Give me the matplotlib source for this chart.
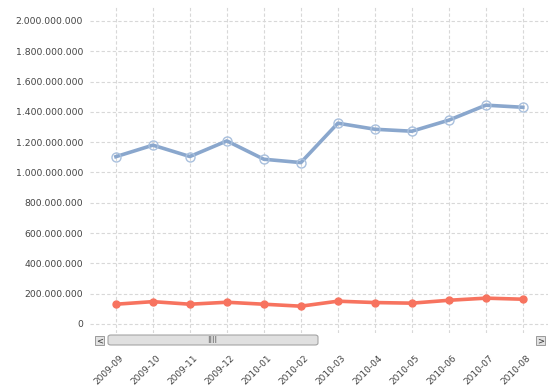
import matplotlib
matplotlib.use("Agg")
import matplotlib.pyplot as plt
from matplotlib.patches import FancyBboxPatch, Rectangle
from matplotlib.ticker import FuncFormatter
from matplotlib.transforms import ScaledTranslation

months = ['2009-09', '2009-10', '2009-11', '2009-12', '2010-01', '2010-02',
          '2010-03', '2010-04', '2010-05', '2010-06', '2010-07', '2010-08']
series_blue = [1104e6, 1180e6, 1105e6, 1208e6, 1087e6, 1065e6,
               1325e6, 1285e6, 1272e6, 1345e6, 1444e6, 1430e6]
series_red = [130e6, 147e6, 130e6, 143e6, 130e6, 117e6,
              150e6, 141e6, 137e6, 156e6, 170e6, 163e6]
yticks = [i * 200e6 for i in range(11)]

W, H = 554, 387
fig = plt.figure(figsize=(W / 100, H / 100), dpi=100)
ax = fig.add_axes([90 / W, 1 - 333 / H, (548 - 90) / W, (333 - 7) / H])

x = list(range(len(months)))
ax.plot(x, series_blue, color='#8aa7cd', lw=2.6, zorder=3,
        marker='o', ms=6.5, mfc='none', mec='#a9c0dd', mew=1.0)
ax.plot(x, series_red, color='#f7735f', lw=2.6, zorder=3,
        marker='o', ms=5, mfc='#f7735f', mec='#f7735f')

ax.set_xlim(-0.7, 11.68)
ax.set_ylim(-60e6, 2092e6)
ax.set_yticks(yticks)
ax.yaxis.set_major_formatter(FuncFormatter(lambda v, p: f"{int(round(v)):,}".replace(',', '.')))
ax.set_xticks(x)
ax.set_xticklabels(months, rotation=45, ha='right', va='center', rotation_mode='anchor')
ax.tick_params(axis='both', length=0, colors='#444444')
ax.tick_params(axis='y', pad=5, labelsize=6.7)
ax.tick_params(axis='x', pad=17, labelsize=6.5)
shift = ScaledTranslation(6 / 100, 0, fig.dpi_scale_trans)
for lab in ax.get_xticklabels():
    lab.set_transform(lab.get_transform() + shift)
for s in ax.spines.values():
    s.set_visible(False)
ax.grid(True, color='#d8d8d8', ls=(0, (3, 2)), lw=0.8)
ax.set_axisbelow(True)

# scrollbar decoration under the plot
def px(x0, y0, w, h):
    return (x0 / W, 1 - (y0 + h) / H, w / W, h / H)

for bx in (95, 536):
    l, b, w, h = px(bx, 336, 9, 9)
    fig.patches.append(Rectangle((l, b), w, h, transform=fig.transFigure,
                                 fc='#e2e2e2', ec='#9a9a9a', lw=0.7))
l, b, w, h = px(108, 335, 210, 10)
fig.patches.append(FancyBboxPatch((l, b), w, h, boxstyle='round,pad=0,rounding_size=0.005',
                                  transform=fig.transFigure, fc='#e0e0e0', ec='#9a9a9a', lw=0.7))
fig.text(99.5 / W, 1 - 340.5 / H, '<', fontsize=6, ha='center', va='center', color='#333333')
fig.text(540.5 / W, 1 - 340.5 / H, '>', fontsize=6, ha='center', va='center', color='#333333')
fig.text(212 / W, 1 - 340.5 / H, 'IIII', fontsize=6, ha='center', va='center', color='#666666')

fig.savefig('out.png', dpi=100)
